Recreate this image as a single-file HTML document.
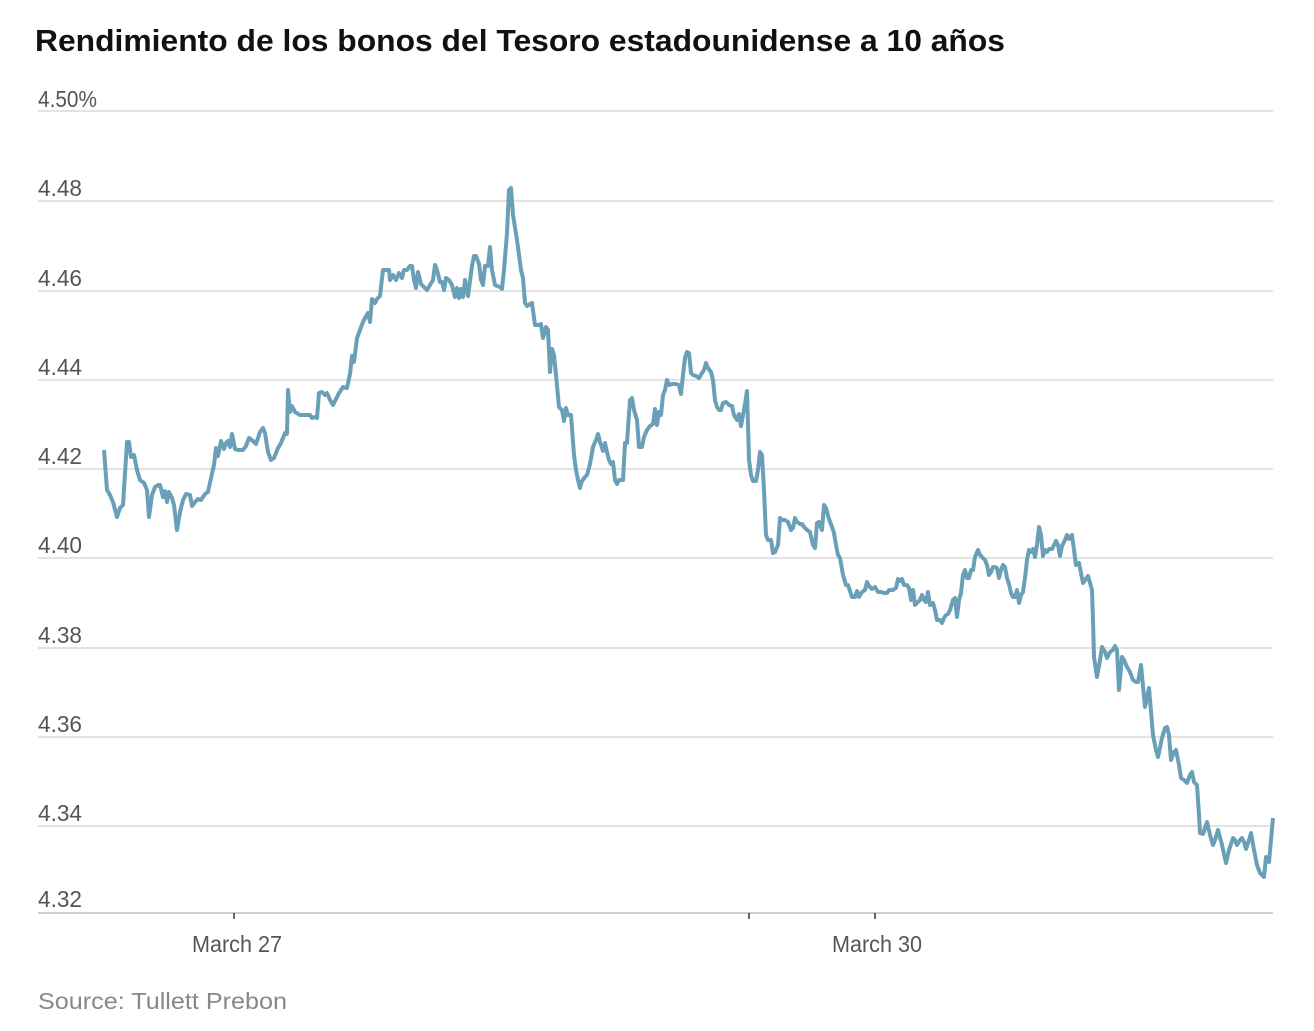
<!DOCTYPE html>
<html><head><meta charset="utf-8"><style>
body{margin:0;background:#fff;width:1314px;height:1031px;overflow:hidden}
svg{display:block}
.t{font-family:"Liberation Sans",sans-serif;font-size:23px;fill:#555}
</style></head><body>
<svg width="1314" height="1031" viewBox="0 0 1314 1031">
<text x="35" y="51" textLength="970" lengthAdjust="spacingAndGlyphs" style="font-family:'Liberation Sans',sans-serif;font-weight:bold;font-size:31px;fill:#111">Rendimiento de los bonos del Tesoro estadounidense a 10 años</text>
<g stroke="#e3e3e3" stroke-width="2">
<line x1="38" x2="1273" y1="111" y2="111"/><line x1="38" x2="1273" y1="201" y2="201"/><line x1="38" x2="1273" y1="291" y2="291"/><line x1="38" x2="1273" y1="380" y2="380"/><line x1="38" x2="1273" y1="469" y2="469"/><line x1="38" x2="1273" y1="558" y2="558"/><line x1="38" x2="1273" y1="648" y2="648"/><line x1="38" x2="1273" y1="737" y2="737"/><line x1="38" x2="1273" y1="826" y2="826"/>
</g>
<line x1="38" x2="1273" y1="913" y2="913" stroke="#cfcfcf" stroke-width="2"/>
<g stroke="#333" stroke-width="1.5"><line x1="234" x2="234" y1="913" y2="919"/><line x1="749" x2="749" y1="913" y2="919"/><line x1="875" x2="875" y1="913" y2="919"/></g>
<g class="t">
<text x="38" y="107" textLength="59" lengthAdjust="spacingAndGlyphs">4.50%</text><text x="38" y="196" textLength="44" lengthAdjust="spacingAndGlyphs">4.48</text><text x="38" y="286" textLength="44" lengthAdjust="spacingAndGlyphs">4.46</text><text x="38" y="375" textLength="44" lengthAdjust="spacingAndGlyphs">4.44</text><text x="38" y="464" textLength="44" lengthAdjust="spacingAndGlyphs">4.42</text><text x="38" y="553" textLength="44" lengthAdjust="spacingAndGlyphs">4.40</text><text x="38" y="643" textLength="44" lengthAdjust="spacingAndGlyphs">4.38</text><text x="38" y="732" textLength="44" lengthAdjust="spacingAndGlyphs">4.36</text><text x="38" y="821" textLength="44" lengthAdjust="spacingAndGlyphs">4.34</text><text x="38" y="907" textLength="44" lengthAdjust="spacingAndGlyphs">4.32</text>
<text x="192" y="952" textLength="90" lengthAdjust="spacingAndGlyphs">March 27</text><text x="832" y="952" textLength="90" lengthAdjust="spacingAndGlyphs">March 30</text>
<text x="38" y="1009" textLength="249" lengthAdjust="spacingAndGlyphs" style="fill:#888">Source: Tullett Prebon</text>
</g>
<polyline fill="none" stroke="#6a9fb8" stroke-width="4" stroke-linejoin="round" points="104,450 107,490 110,495 113,502 117,517 120,508 123,505 127,442 129,442 131,457 134,455 137,470 140,480 144,483 147,490 149,517 152,495 155,487 158,485 160,485 163,497 165,491 167,502 169,492 172,498 174,505 177,530 180,512 183,500 186,494 190,495 192,506 195,502 198,499 201,500 205,494 208,492 211,478 214,465 216,448 218,456 221,441 224,449 226,443 228,441 230,447 232,434 235,449 238,450 243,450 246,446 249,438 253,441 256,444 260,432 263,428 265,433 268,452 271,460 274,458 278,448 281,443 285,433 287,434 288,390 290,412 292,406 295,412 300,415 305,415 310,415 312,418 315,417 317,418 319,393 322,392 325,395 327,393 330,400 333,405 336,399 339,393 343,387 347,388 350,374 352,356 354,362 357,338 360,330 363,322 365,318 368,313 370,322 372,299 375,303 377,299 380,296 383,270 386,270 389,270 390,280 393,275 396,280 399,273 402,278 404,270 407,270 410,266 412,266 414,280 416,288 418,272 421,284 424,287 427,290 430,285 433,280 435,265 437,270 440,282 442,282 444,290 446,278 449,280 452,285 455,297 457,288 459,298 461,289 463,297 465,280 468,296 472,266 474,256 476,256 479,264 481,280 483,285 485,266 488,266 490,247 492,270 495,285 497,286 500,287 502,289 504,270 507,233 509,190 511,188 513,215 517,240 521,270 523,278 525,303 527,306 530,304 532,303 535,325 538,325 541,324 543,338 546,327 548,330 550,372 552,349 554,355 556,375 559,407 562,410 564,421 566,408 568,415 571,415 574,455 576,470 578,480 580,488 582,481 585,477 587,475 590,464 593,447 596,440 598,434 600,442 603,451 605,443 607,452 609,460 611,464 613,462 615,480 617,484 619,480 621,480 623,480 625,443 627,443 630,400 632,398 634,410 637,420 639,447 642,447 644,437 647,430 650,426 653,424 655,409 657,425 659,412 661,415 663,395 665,390 667,380 669,385 672,384 676,384 679,385 681,394 683,375 685,358 687,352 689,353 691,373 693,375 696,376 699,378 702,373 704,370 706,363 708,368 711,372 713,380 715,400 717,407 719,410 721,410 723,403 726,402 729,405 732,406 734,415 737,420 739,414 741,426 745,404 747,391 749,460 751,475 753,481 756,481 758,470 760,452 762,455 764,490 766,535 768,540 771,540 773,553 775,552 778,545 780,518 782,520 785,520 788,522 791,530 793,528 795,518 797,522 800,524 802,524 805,528 807,530 810,532 813,545 815,548 817,523 819,522 822,530 824,505 826,508 829,519 832,527 834,533 836,545 838,555 840,558 843,575 846,585 848,585 850,591 852,597 855,597 857,591 859,597 862,592 865,590 867,582 869,586 872,589 875,587 878,592 881,592 884,593 887,593 889,590 893,590 896,588 898,579 900,581 902,579 904,585 907,585 909,588 911,600 913,590 915,605 917,603 920,600 922,595 924,600 926,602 928,592 930,605 933,603 935,610 937,620 940,620 942,623 944,618 946,615 948,614 950,610 953,600 955,598 957,617 959,600 961,593 963,575 965,570 967,578 969,578 971,570 973,570 975,557 978,550 980,555 983,558 985,560 987,565 989,575 991,572 993,567 995,567 997,568 999,578 1001,570 1003,565 1005,567 1007,578 1009,584 1011,593 1013,597 1015,597 1017,590 1019,603 1021,595 1023,592 1025,578 1027,560 1029,550 1031,552 1033,549 1035,557 1037,545 1039,527 1041,535 1043,556 1045,550 1047,552 1049,549 1052,549 1054,545 1056,541 1058,545 1060,556 1062,546 1065,540 1067,535 1069,539 1072,535 1076,565 1079,563 1083,583 1088,576 1092,590 1093,620 1094,657 1097,677 1100,660 1102,647 1105,652 1107,658 1110,652 1113,650 1115,646 1117,650 1119,690 1122,657 1124,660 1127,667 1130,672 1133,680 1136,682 1138,682 1141,665 1145,707 1149,688 1153,735 1156,750 1158,757 1162,738 1165,728 1167,727 1169,735 1171,760 1174,752 1176,750 1179,765 1181,778 1184,780 1187,783 1190,775 1192,772 1194,782 1197,785 1199,815 1200,833 1203,834 1205,828 1207,822 1210,835 1213,845 1215,840 1218,830 1222,845 1226,863 1229,850 1233,838 1235,840 1237,845 1240,840 1242,838 1244,842 1246,849 1249,840 1251,833 1254,850 1257,865 1260,873 1262,875 1264,877 1266,857 1268,858 1269,862 1271,840 1273,818"/>
</svg>
</body></html>
